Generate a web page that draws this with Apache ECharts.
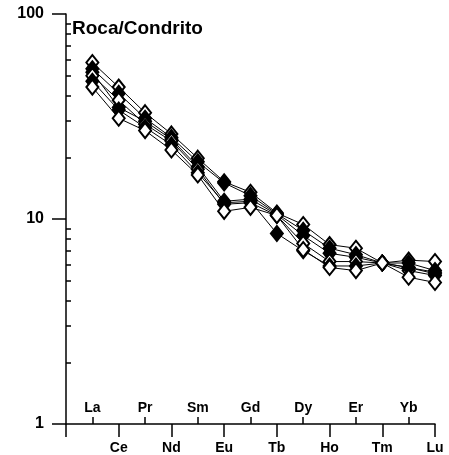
<!DOCTYPE html>
<html>
<head>
<meta charset="utf-8">
<script src="https://cdn.jsdelivr.net/npm/echarts@6/dist/echarts.min.js"></script>
<style>
  html, body { margin: 0; padding: 0; background: #fff; }
  #chart { width: 449px; height: 455px; }
</style>
</head>
<body>
<div id="chart"></div>
<script>
// elementos (tierras raras), normalizados a condrito
const elements = ["La", "Ce", "Pr", "Nd", "Sm", "Eu", "Gd", "Tb", "Dy", "Ho", "Er", "Tm", "Yb", "Lu"];

// muestras: abiertas (open) y rellenas (filled)
const sampleA = [58, 44, 33, 26, 19.8, 15.2, 13.5, 10.7, 9.4, 7.5, 7.2, 6.1, 6.3, 6.2];
const sampleB = [54, 41, 31, 25, 19, 15, 13, 10.6, 8.8, 7.2, 6.7, 6.1, 6.1, 5.6];
const sampleC = [52, 35, 30, 24.5, 18, 12.2, 12.5, 10.5, 8.3, 6.8, 6.5, 6.1, 5.8, 5.5];
const sampleD = [50, 38, 29, 24, 17.5, 11.8, 12, 10.4, 7.6, 6.2, 6.2, 6.1, 5.6, 5.3];
const sampleE = [47, 34, 28, 23, 16.8, 12, 12.2, 8.5, 7.0, 5.9, 5.9, 6.1, 5.8, 5.4];
const sampleF = [44, 31, 27, 21.7, 16.4, 10.9, 11.4, 10.4, 7.1, 5.8, 5.6, 6.1, 5.2, 4.9];

const samples = [
  { values: sampleA, open: true },
  { values: sampleB, open: false },
  { values: sampleC, open: false },
  { values: sampleD, open: true },
  { values: sampleE, open: false },
  { values: sampleF, open: true },
];

// marcas del eje Y
const yMajor = [1, 10, 100];
const yMinor = [2, 3, 4, 5, 6, 7, 8, 9, 20, 30, 40, 50, 60, 70, 80, 90];

const upperPos = [1, 3, 5, 7, 9, 11, 13];
const lowerPos = [2, 4, 6, 8, 10, 12, 14];

const chart = echarts.init(document.getElementById("chart"));

const labelStyle = {
  color: "#000",
  fontWeight: "bold",
  fontFamily: "Liberation Sans, Arial, sans-serif",
};

const option = {
  animation: false,
  title: {
    text: "Roca/Condrito",
    left: 67,
    top: 14,
    textStyle: { ...labelStyle, fontSize: 19 },
  },
  grid: { left: 66, right: 14, top: 14, bottom: 31, containLabel: false },
  xAxis: [
    {
      type: "value",
      min: 0,
      max: 14,
      interval: 1,
      position: "bottom",
      axisLine: { onZero: false, lineStyle: { color: "#000", width: 1.5 } },
      splitLine: { show: false },
      axisTick: {
        inside: true,
        length: 7,
        customValues: upperPos,
        lineStyle: { color: "#000", width: 1.5 },
      },
      axisLabel: {
        inside: true,
        margin: 9,
        customValues: upperPos,
        formatter: (v) => elements[v - 1] || "",
        ...labelStyle,
        fontSize: 14,
      },
    },
    {
      type: "value",
      min: 0,
      max: 14,
      interval: 1,
      position: "bottom",
      offset: 0,
      axisLine: { show: false },
      splitLine: { show: false },
      axisTick: {
        inside: false,
        length: 13,
        customValues: [0].concat(lowerPos),
        lineStyle: { color: "#000", width: 1.5 },
      },
      axisLabel: {
        margin: 17,
        customValues: lowerPos,
        formatter: (v) => elements[v - 1] || "",
        ...labelStyle,
        fontSize: 14,
      },
    },
  ],
  yAxis: [
    {
      // marcas menores hacia dentro
      type: "log",
      min: 1,
      max: 100,
      logBase: 10,
      position: "left",
      axisLine: { show: true, onZero: false, lineStyle: { color: "#000", width: 1.5 } },
      splitLine: { show: false },
      axisTick: {
        inside: true,
        length: 5,
        customValues: yMinor,
        lineStyle: { color: "#000", width: 1.5 },
      },
      axisLabel: { show: false },
    },
    {
      // marcas mayores hacia fuera, con etiquetas
      type: "log",
      min: 1,
      max: 100,
      logBase: 10,
      position: "left",
      offset: 0,
      axisLine: { show: false },
      splitLine: { show: false },
      axisTick: {
        inside: false,
        length: 14,
        customValues: yMajor,
        lineStyle: { color: "#000", width: 1.5 },
      },
      axisLabel: {
        margin: 22,
        customValues: yMajor,
        ...labelStyle,
        fontSize: 16,
      },
    },
  ],
  series: samples.map((s) => ({
    type: "line",
    xAxisIndex: 0,
    yAxisIndex: 0,
    clip: false,
    symbol: "diamond",
    symbolSize: [12, 15],
    showAllSymbol: true,
    data: s.values.map((v, i) => [i + 1, v]),
    lineStyle: { color: "#000", width: 1 },
    itemStyle: {
      color: s.open ? "#fff" : "#000",
      borderColor: "#000",
      borderWidth: 2,
    },
  })),
};

chart.setOption(option);
</script>
</body>
</html>
